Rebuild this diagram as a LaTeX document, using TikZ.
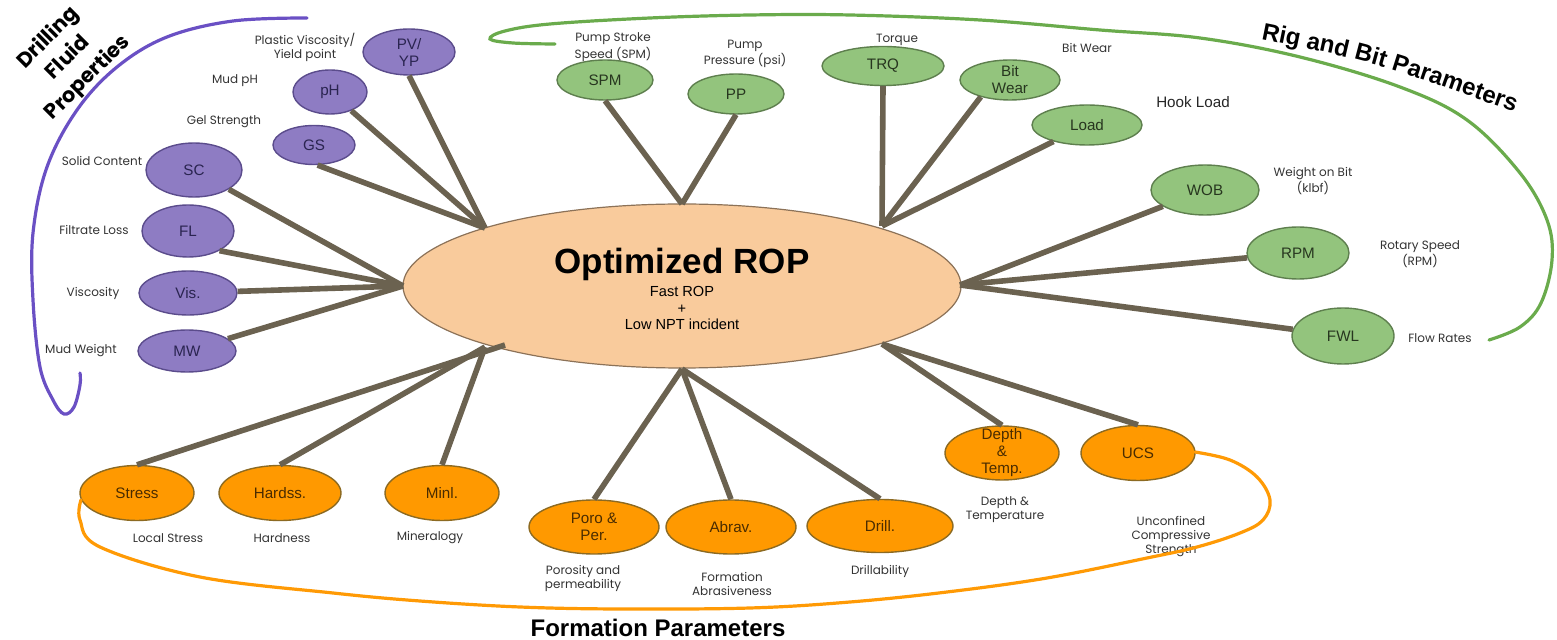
\documentclass[tikz,border=0pt]{standalone}
\usepackage{fontspec}
\setmainfont{Liberation Sans}
\newfontfamily\notefont{Poppins}
\usetikzlibrary{shapes.geometric,decorations.text}

\definecolor{fluidfill}{HTML}{8E7CC3}
\definecolor{fluidedge}{HTML}{5B4C8C}
\definecolor{fluidtext}{HTML}{2A2450}
\definecolor{fluidarc}{HTML}{6A50C4}
\definecolor{rigfill}{HTML}{93C47D}
\definecolor{rigedge}{HTML}{5E7F4E}
\definecolor{rigtext}{HTML}{27361F}
\definecolor{rigarc}{HTML}{6AAB4C}
\definecolor{rockfill}{HTML}{FF9900}
\definecolor{rockedge}{HTML}{8C6A22}
\definecolor{rocktext}{HTML}{4A2C00}
\definecolor{rockarc}{HTML}{FF9A05}
\definecolor{ropfill}{HTML}{F9CB9C}
\definecolor{ropedge}{HTML}{8C7258}
\definecolor{spokecol}{HTML}{6B6250}

\tikzset{
  dims/.style 2 args={minimum width=#1pt, minimum height=#2pt},
  param/.style={ellipse, inner sep=0pt, line width=0.7pt, align=center,
    font=\fontsize{7.6}{8.5}\selectfont},
  fluid/.style={param, draw=fluidedge, fill=fluidfill, text=fluidtext},
  rig/.style={param, draw=rigedge, fill=rigfill, text=rigtext},
  rock/.style={param, draw=rockedge, fill=rockfill, text=rocktext},
  core/.style={ellipse, inner sep=0pt, draw=ropedge, fill=ropfill, line width=0.6pt},
  spoke/.style={draw=spokecol, line width=2.8pt},
  bracket/.style={line width=1.6pt, line cap=round},
  note/.style={font=\notefont\fontsize{6}{7}\selectfont, text=black!80, align=center},
  group/.style={font=\bfseries\fontsize{12}{14}\selectfont},
}

\begin{document}
\begin{tikzpicture}[x=0.5pt,y=-0.5pt]
\useasboundingbox (0,0) rectangle (1557,640);

% centre
\node[core, dims={279}{82}] (rop) at (682,286) {};
\node[font=\bfseries\fontsize{17.5}{20}\selectfont] (ropname) at (682,264) {Optimized ROP};
\node[font=\fontsize{7.3}{8.25}\selectfont, align=center] (ropgoal) at (682,308) {Fast ROP\\+\\Low NPT incident};

% where the spokes meet the centre
\coordinate (hubFT) at (485,228);
\coordinate (hubFW) at (403,286);
\coordinate (hubRT) at (682,204);
\coordinate (hubRQ) at (882,226);
\coordinate (hubRE) at (960,285);
\coordinate (hubKE) at (882,344);
\coordinate (hubKS) at (682,369);
\coordinate (hubKW) at (485,347);
\coordinate (hubKX) at (505,345);

% drilling fluid
\node[fluid, dims={46}{23}] (pvyp) at (409,52) {PV/\\YP};
\node[fluid, dims={37}{22}] (ph) at (330,92) {pH};
\node[fluid, dims={41}{19.5}] (gs) at (314,145) {GS};
\node[fluid, dims={48}{27}] (sc) at (194,170) {SC};
\node[fluid, dims={46}{26}] (fl) at (188,231) {FL};
\node[fluid, dims={49}{22}] (vis) at (188,293) {Vis.};
\node[fluid, dims={49}{21}] (mw) at (187,351) {MW};

\node[note] (pvyp-note) at (305,47) {Plastic Viscosity/\\Yield point};
\node[note] (ph-note) at (235,81) {Mud pH};
\node[note] (gs-note) at (224,122) {Gel Strength};
\node[note] (sc-note) at (102,161) {Solid Content};
\node[note] (fl-note) at (94,230) {Filtrate Loss};
\node[note] (vis-note) at (93,293) {Viscosity};
\node[note] (mw-note) at (81,351) {Mud Weight};

\draw[spoke] (pvyp.south) -- (hubFT);
\draw[spoke] (ph) -- (hubFT);
\draw[spoke] (gs.-80) -- (hubFT);
\draw[spoke] (sc) -- (hubFW);
\draw[spoke] (fl.-32) -- (hubFW);
\draw[spoke] (vis) -- (hubFW);
\draw[spoke] (mw) -- (hubFW);

% rig and bit
\node[rig, dims={48}{20}] (spm) at (605,80) {SPM};
\node[rig, dims={48}{20}] (pp) at (736,94) {PP};
\node[rig, dims={61}{19.5}] (trq) at (883,66) {TRQ};
\node[rig, dims={50}{20}] (bitwear) at (1010,80) {Bit\\Wear};
\node[rig, dims={55}{20}] (load) at (1087,125) {Load};
\node[rig, dims={54}{25}] (wob) at (1205,190) {WOB};
\node[rig, dims={51}{26}] (rpm) at (1298,253) {RPM};
\node[rig, dims={51}{28}] (fwl) at (1343,336) {FWL};

\node[note] (spm-note) at (613,47) {Pump Stroke\\Speed (SPM)};
\node[note] (pp-note) at (745,54) {Pump\\Pressure (psi)};
\node[note] (trq-note) at (897,40) {Torque};
\node[note] (bitwear-note) at (1087,48) {Bit Wear};
\node[font=\fontsize{7.6}{9}\selectfont, text=black!85] (load-note) at (1193,102) {Hook Load};
\node[note] (wob-note) at (1313,181) {Weight on Bit\\(klbf)};
\node[note] (rpm-note) at (1420,254) {Rotary Speed\\(RPM)};
\node[note] (fwl-note) at (1440,338) {Flow Rates};

\draw[spoke] (spm.south) -- (hubRT);
\draw[spoke] (pp.south) -- (hubRT);
\draw[spoke] (trq.south) -- (hubRQ);
\draw[spoke] (bitwear.-150) -- (hubRQ);
\draw[spoke] (load) -- (hubRQ);
\draw[spoke] (wob) -- (hubRE);
\draw[spoke] (rpm) -- (hubRE);
\draw[spoke] (fwl) -- (hubRE);

% formation
\node[rock, dims={57}{27.5}] (stress) at (137,493) {Stress};
\node[rock, dims={61}{27.5}] (hardss) at (280,493) {Hardss.};
\node[rock, dims={57}{27.5}] (minl) at (442,493) {Minl.};
\node[rock, dims={65}{27}] (poro) at (594,527) {Poro \&\\Per.};
\node[rock, dims={65}{27}] (abrav) at (731,527) {Abrav.};
\node[rock, dims={73}{26.5}] (drill) at (880,526) {Drill.};
\node[rock, dims={57}{27}, label={[param, text=rocktext]center:Depth\\\&\\Temp.}] (depth) at (1002,453) {};
\node[rock, dims={57}{27.5}] (ucs) at (1138,453) {UCS};

\node[note] (stress-note) at (168,538) {Local Stress};
\node[note] (hardss-note) at (282,538) {Hardness};
\node[note] (minl-note) at (430,538) {Mineralogy};
\node[note] (poro-note) at (583,578) {Porosity and\\permeability};
\node[note] (abrav-note) at (732,584) {Formation\\Abrasiveness};
\node[note] (drill-note) at (880,571) {Drillability};
\node[note] (depth-note) at (1005,510) {Depth \&\\Temperature};
\node[note] (ucs-note) at (1171,537) {Unconfined\\Compressive\\Strength};

\draw[spoke] (stress.north) -- (hubKX);
\draw[spoke] (hardss.north) -- (hubKW);
\draw[spoke] (minl.north) -- (hubKW);
\draw[spoke] (poro.north) -- (hubKS);
\draw[spoke] (abrav.north) -- (hubKS);
\draw[spoke] (drill.north) -- (hubKS);
\draw[spoke] (depth.north) -- (hubKE);
\draw[spoke] (ucs.north) -- (hubKE);

% group brackets
\draw[bracket, fluidarc] plot[smooth, tension=0.6] coordinates {(307,18) (233,21) (167,37) (117,67) (77,110) (47,167) (33,233) (33,300) (40,367) (53,400) (64,414) (74,407) (80,385) (80,373)};
\draw[bracket, rigarc] plot[smooth, tension=0.6] coordinates {(555,44) (513,43) (490,39) (505,31) (550,24) (650,18) (750,15) (850,15) (980,20) (1100,30) (1200,38) (1300,57) (1400,87) (1467,120) (1520,173) (1547,220) (1552,260) (1541,303) (1520,327) (1489,340)};
\draw[bracket, rockarc] plot[smooth, tension=0.6] coordinates {(1195,452) (1230,460) (1257,477) (1270,500) (1263,520) (1240,533) (1197,547) (1147,558) (1047,578) (947,592) (850,602) (750,608) (620,609) (520,607) (420,601) (333,593) (200,577) (100,547) (80,520) (81,500)};

\node[group, rotate=45, align=center, font=\notefont\bfseries\fontsize{10.4}{14}\selectfont] (fluid-title) at (68,58) {Drilling\\Fluid\\Properties};
\path[decorate, decoration={text along path, text align=center,
  text={|\bfseries\fontsize{12}{14}\selectfont|Rig and Bit Parameters}}]
  (1250,37) .. controls (1375,62) .. (1525,116);
\node[group] (rock-title) at (658,628) {Formation Parameters};
\end{tikzpicture}
\end{document}
